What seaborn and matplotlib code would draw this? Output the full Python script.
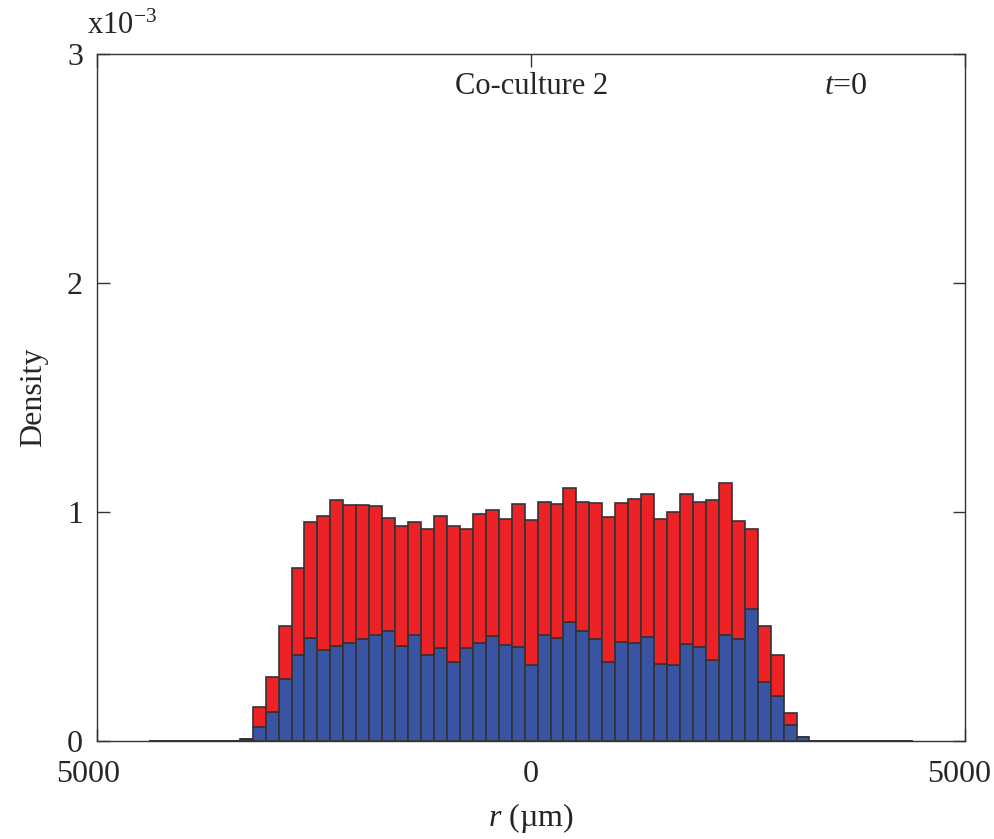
import numpy as np
import pandas as pd
import matplotlib
matplotlib.use('Agg')
import matplotlib.pyplot as plt
import matplotlib.transforms as mtransforms
import seaborn as sns

# histogram bins (um), 59 bins between -4400 and 4400
bin_edges = np.linspace(-4400, 4400, 60)
bin_centers = 0.5 * (bin_edges[:-1] + bin_edges[1:])

# densities, in units of 1e-3
blue_core = [0.010, 0.061, 0.127, 0.269, 0.376, 0.448, 0.399, 0.413, 0.428, 0.444,
             0.464, 0.480, 0.416, 0.463, 0.374, 0.408, 0.345, 0.406, 0.428, 0.460,
             0.419, 0.412, 0.333, 0.463, 0.450, 0.518, 0.482, 0.444, 0.344, 0.434,
             0.427, 0.453, 0.335, 0.331, 0.422, 0.409, 0.352, 0.464, 0.444, 0.575,
             0.258, 0.195, 0.071, 0.017]
total_core = [0.010, 0.147, 0.279, 0.502, 0.757, 0.958, 0.984, 1.051, 1.029, 1.032,
              1.026, 0.972, 0.937, 0.955, 0.924, 0.981, 0.940, 0.926, 0.991, 1.010,
              0.969, 1.036, 0.965, 1.042, 1.035, 1.103, 1.044, 1.041, 0.980, 1.041,
              1.058, 1.080, 0.969, 0.999, 1.080, 1.045, 1.051, 1.128, 0.959, 0.924,
              0.502, 0.374, 0.124, 0.017]
n_left_empty = 7
n_right_empty = 8

blue = [0.0] * n_left_empty + blue_core + [0.0] * n_right_empty
total = [0.0] * n_left_empty + total_core + [0.0] * n_right_empty
red = [t - b for t, b in zip(total, blue)]

df = pd.DataFrame({
    'r': np.concatenate([bin_centers, bin_centers]),
    'density': np.concatenate([red, blue]),
    'cell': ['red'] * len(red) + ['blue'] * len(blue),
})

sns.set_theme(style='ticks')
plt.rcParams['font.family'] = ['Liberation Serif', 'DejaVu Serif']
plt.rcParams['mathtext.fontset'] = 'custom'
plt.rcParams['mathtext.rm'] = 'Liberation Serif'
plt.rcParams['mathtext.it'] = 'Liberation Serif:italic'
plt.rcParams['xtick.direction'] = 'in'
plt.rcParams['ytick.direction'] = 'in'

fig = plt.figure(figsize=(9.95, 8.39), dpi=100)
ax = fig.add_axes([0.0975, 0.1168, 0.8725, 0.8188])

sns.histplot(data=df, x='r', weights='density', hue='cell', hue_order=['red', 'blue'],
             bins=list(bin_edges), multiple='stack',
             palette={'red': '#ed2226', 'blue': '#3a54a4'},
             edgecolor='#333333', linewidth=1.2, alpha=1, legend=False, ax=ax)

ax.set_xlim(-5000, 5000)
ax.set_ylim(0, 3)
ax.set_xticks([-5000, 0, 5000])
ax.set_xticklabels(['5000', '0', '5000'])
ax.set_yticks([0, 1, 2, 3])
ax.tick_params(axis='both', which='both', top=True, right=True, length=9,
               width=1, color='#333333', labelsize=23)
ax.tick_params(axis='x', pad=14)
ax.tick_params(axis='y', pad=10)
for s in ax.spines.values():
    s.set_color('#333333')
    s.set_linewidth(1)

# nudge the end labels inward like the original
xlabels = ax.get_xticklabels()
xlabels[0].set_transform(xlabels[0].get_transform() +
                         mtransforms.ScaledTranslation(-0.09, 0, fig.dpi_scale_trans))
xlabels[2].set_transform(xlabels[2].get_transform() +
                         mtransforms.ScaledTranslation(-0.06, 0, fig.dpi_scale_trans))

ax.set_xlabel('$r$ (µm)', fontsize=23, labelpad=8)
ax.set_ylabel('Density', fontsize=23, labelpad=14)

ax.text(0, 2.86, 'Co-culture 2', ha='center', va='center', fontsize=22)
ax.text(3630, 2.86, '$t$=0', ha='center', va='center', fontsize=23)
fig.text(0.123, 0.968, 'x10$^{-3}$', ha='center', va='center', fontsize=22)

fig.savefig('out.png', dpi=100)
